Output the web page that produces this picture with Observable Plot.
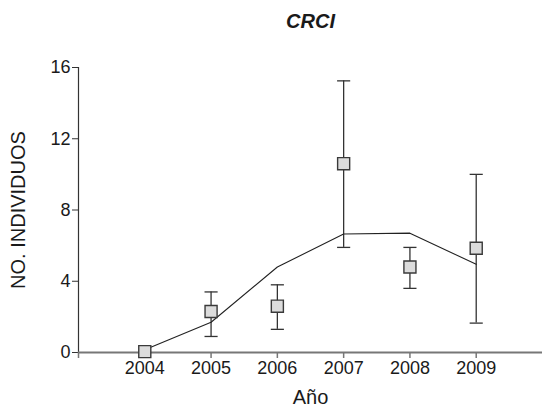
<!DOCTYPE html>
<html>
<head>
<meta charset="utf-8">
<script src="https://cdn.jsdelivr.net/npm/d3@7"></script>
<script src="https://cdn.jsdelivr.net/npm/@observablehq/plot@0.6"></script>
<style>
  html, body { margin: 0; padding: 0; background: #fff; }
</style>
</head>
<body>
<div id="chart"></div>
<script>
// Annual counts (mean ± error) and fitted trend line
const years   = [2004, 2005, 2006, 2007, 2008, 2009];
const means   = [0.05, 2.3, 2.6, 10.6, 4.8, 5.85];
const lows    = [0.05, 0.9, 1.3, 5.9, 3.6, 1.65];
const highs   = [0.05, 3.4, 3.8, 15.25, 5.9, 10.0];
const trend   = [0.15, 1.7, 4.8, 6.65, 6.7, 4.95];
const yTicks  = [0, 4, 8, 12, 16];
const xTicks  = [2003, 2004, 2005, 2006, 2007, 2008, 2009];
const xLabels = [2004, 2005, 2006, 2007, 2008, 2009];

const points = years.map((y, i) => ({year: y, mean: means[i], lo: lows[i], hi: highs[i]}));
const line = years.map((y, i) => ({year: y, value: trend[i]}));
const bars = points.filter(d => d.hi > d.lo);

// horizontal stroke used as whisker caps
const cap = {
  draw(context, size) {
    const w = Math.sqrt(size);
    context.moveTo(-w, 0);
    context.lineTo(w, 0);
  }
};

const font = "'Liberation Sans', Arial, sans-serif";
const ink = "#1a1a1a";

const chart = Plot.plot({
  width: 542,
  height: 412,
  marginLeft: 78,
  marginRight: 0,
  marginTop: 67,
  marginBottom: 60,
  style: {fontFamily: font, color: ink, background: "#fff"},
  x: {domain: [2003, 2010]},
  y: {domain: [0, 16]},
  marks: [
    // axes
    Plot.axisY({ticks: yTicks, tickSize: 6, tickPadding: 2, fontSize: 18, label: null, stroke: "#333", fill: ink}),
    Plot.ruleX([2003], {y1: 0, y2: 16, stroke: "#333", strokeWidth: 1.2}),
    Plot.axisX({ticks: xTicks, tickSize: 6, tickPadding: 3, fontSize: 18, label: null, stroke: "#777", strokeWidth: 1.5, fill: ink,
      tickFormat: d => xLabels.includes(d) ? String(d) : ""}),
    Plot.ruleY([0], {stroke: "#777", strokeWidth: 2}),
    // error bars
    Plot.ruleX(bars, {x: "year", y1: "lo", y2: "hi", stroke: "#333", strokeWidth: 1.3}),
    Plot.dot(bars, {x: "year", y: "lo", symbol: cap, r: 3.7, stroke: "#333", strokeWidth: 1.3}),
    Plot.dot(bars, {x: "year", y: "hi", symbol: cap, r: 3.7, stroke: "#333", strokeWidth: 1.3}),
    // trend line
    Plot.line(line, {x: "year", y: "value", stroke: "#222", strokeWidth: 1.1}),
    // means
    Plot.dot(points, {x: "year", y: "mean", symbol: "square", r: 6.8, fill: "#dcdcdc", stroke: "#3a3a3a", strokeWidth: 1.4}),
    // titles
    Plot.text(["CRCI"], {frameAnchor: "top", lineAnchor: "bottom", dy: -40, fontSize: 20, fontWeight: "bold", fontStyle: "italic", fill: ink}),
    Plot.text(["Año"], {frameAnchor: "bottom", lineAnchor: "bottom", dy: 51, fontSize: 20, fill: ink}),
    Plot.text(["NO. INDIVIDUOS"], {frameAnchor: "left", textAnchor: "middle", rotate: -90, dx: -60, lineAnchor: "middle", fontSize: 20, fill: ink})
  ]
});

document.getElementById("chart").append(chart);
</script>
</body>
</html>
